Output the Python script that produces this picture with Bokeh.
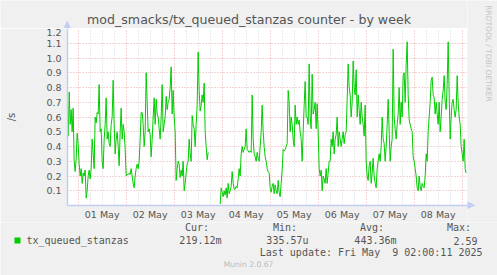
import numpy as np
import pandas as pd
from bokeh.plotting import figure
from bokeh.layouts import column, row
from bokeh.models import FixedTicker, Grid, Label, Range1d, BoxAnnotation
from bokeh.embed import file_html
from bokeh.resources import INLINE

# ---------------- data ----------------
series_name = "tx_queued_stanzas"
series_start = "2025-04-30 18:30"
series_step = "30min"
values = [
    0.60, 0.47, 0.77, 0.55, 0.65, 0.50, 0.66, 0.30, 0.23, 0.32,
    0.49, 0.42, 0.28, 0.20, 0.25, 0.15, 0.22, 0.20, 0.24, 0.05,
    0.10, 0.20, 0.24, 0.18, 0.25, 0.45, 0.35, 0.25, 0.60, 0.56,
    0.63, 0.62, 0.82, 0.50, 0.52, 0.30, 0.25, 0.45, 0.55, 0.73,
    0.45, 0.50, 0.42, 0.40, 0.55, 0.60, 0.85, 0.55, 0.35, 0.45,
    0.50, 0.40, 0.27, 0.50, 0.66, 0.45, 0.55, 0.50, 0.38, 0.20,
    0.21, 0.21, 0.22, 0.21, 0.25, 0.20, 0.15, 0.12, 0.20, 0.25,
    0.28, 0.25, 0.30, 0.45, 0.63, 0.63, 0.55, 0.40, 0.50, 0.90,
    0.70, 0.50, 0.52, 0.48, 0.33, 0.45, 0.60, 0.73, 0.55, 0.72,
    0.62, 0.60, 0.52, 0.45, 0.60, 0.82, 0.50, 0.55, 0.60, 0.74,
    0.65, 0.70, 0.72, 0.80, 0.94, 0.62, 0.78, 0.60, 0.50, 0.17,
    0.25, 0.30, 0.28, 0.19, 0.24, 0.20, 0.30, 0.10, 0.15, 0.22,
    0.28, 0.30, 0.45, 0.35, 0.30, 0.61, 0.55, 0.52, 0.40, 0.55,
    0.68, 1.04, 0.78, 0.64, 0.68, 0.75, 0.70, 0.83, 0.50, 0.40,
    0.31, 0.36, None, None, None, None, None, None, None, None,
    None, None, None, 0.01, 0.12, 0.09, 0.06, 0.10, 0.07, 0.12,
    0.05, 0.15, 0.08, 0.10, 0.13, 0.23, 0.15, 0.11, 0.11, 0.13,
    0.12, 0.18, 0.25, 0.20, 0.35, 0.40, 0.36, 0.38, 0.40, 0.52,
    0.38, 0.37, 0.36, 0.37, 0.36, 0.75, 0.45, 0.35, 0.33, 0.30,
    0.36, 0.32, 0.30, 0.40, 0.50, 0.68, 0.50, 0.40, 0.33, 0.30,
    0.25, 0.23, 0.22, 0.12, 0.09, 0.13, 0.15, 0.08, 0.14, 0.10,
    0.08, 0.17, 0.09, 0.06, 0.15, 0.24, 0.38, 0.37, 0.38, 0.40,
    0.42, 0.78, 0.70, 0.50, 0.60, 0.55, 0.45, 0.40, 0.68, 0.55,
    0.60, 0.55, 0.58, 0.50, 0.45, 0.30, 0.50, 0.68, 0.84, 0.60,
    0.60, 0.55, 0.96, 0.60, 0.52, 0.89, 0.62, 0.65, 0.70, 0.52,
    0.69, 0.50, 0.25, 0.20, 0.24, 0.10, 0.20, 0.18, 0.15, 0.25,
    0.15, 0.22, 0.30, 0.30, 0.45, 0.40, 0.50, 0.35, 0.45, 0.48,
    0.60, 0.40, 0.50, 0.45, 0.40, 0.45, 0.50, 0.42, 0.48, 0.50,
    0.72, 0.96, 0.80, 0.75, 0.60, 0.70, 0.98, 0.80, 0.75, 0.92,
    0.60, 0.75, 0.65, 0.55, 0.70, 0.60, 0.55, 0.47, 0.68, 0.30,
    0.20, 0.17, 0.27, 0.30, 0.15, 0.22, 0.32, 0.20, 0.15, 0.12,
    0.25, 0.30, 0.35, 0.30, 0.40, 0.60, 0.45, 0.42, 0.30, 0.40,
    0.55, 0.72, 0.50, 0.30, 0.40, 0.45, 1.06, 0.60, 0.52, 0.45,
    0.55, 0.62, 0.80, 0.55, 0.70, 0.60, 0.88, 0.90, 0.70, 0.95,
    1.11, 0.75, 0.58, 0.55, 0.52, 0.50, 0.33, 0.30, 0.25, 0.20,
    0.12, 0.10, 0.20, 0.13, 0.10, 0.15, 0.13, 0.12, 0.20, 0.35,
    0.30, 0.50, 0.60, 0.70, 0.85, 0.87, 0.75, 0.73, 0.62, 0.70,
    0.62, 0.55, 0.70, 0.50, 0.60, 0.72, 0.78, 0.88, 0.70, 0.65,
    0.82, 1.11, 0.75, 0.45, 0.60, 0.70, 0.72, 0.65, 0.60, 0.65,
    0.88, 0.70, 0.60, 0.55, 0.40, 0.35, 0.30, 0.45, 0.25, 0.22,
]
day_labels = ["01 May", "02 May", "03 May", "04 May", "05 May", "06 May", "07 May", "08 May"]
day_dates = ["2025-05-01", "2025-05-02", "2025-05-03", "2025-05-04", "2025-05-05",
             "2025-05-06", "2025-05-07", "2025-05-08", "2025-05-09"]
y_ticks = [0.1, 0.2, 0.3, 0.4, 0.5, 0.6, 0.7, 0.8, 0.9, 1.0, 1.1, 1.2]
y_tick_labels = ["0.1", "0.2", "0.3", "0.4", "0.5", "0.6", "0.7", "0.8", "0.9", "1.0", "1.1", "1.2"]
x_start = "2025-04-30 18:40"
x_end = "2025-05-09 02:40"
stat_heads = ["Cur:", "Min:", "Avg:", "Max:"]
stat_values = ["219.12m", "335.57u", "443.36m", "2.59"]
title_text = "mod_smacks/tx_queued_stanzas counter - by week"
y_unit = "/s"
watermark = "RRDTOOL / TOBI OETIKER"
last_update = "Last update: Fri May \u00a09 02:00:11 2025"
footer = "Munin 2.0.67"

# ---------------- build ----------------
W, H = 497, 275
LEFT_W = 467          # width of title strip + chart
TOP = 28              # height of title strip
CHART_H = 194         # chart figure height (frame 177 + axis 17)
BG = "#F0F0F0"
TXT = "#555555"
AXIS = "#C4CCF4"
GREEN = "#00CC00"
times = pd.date_range(start=series_start, periods=len(values), freq=series_step)
y = np.array([np.nan if v is None else v for v in values], dtype=float)


def ms(ts):
    return pd.Timestamp(ts).value / 1e6


def no_align(fig):
    try:
        fig.frame_align = False
    except Exception:
        pass


def canvas_fig(w, h, x0, x1, y0, y1):
    """A figure whose frame fills it, with pixel-like ranges (y downwards)."""
    f = figure(width=w, height=h, output_backend="svg", toolbar_location=None,
               x_range=Range1d(x0, x1), y_range=Range1d(y1, y0), title=None,
               x_axis_location=None, y_axis_location=None, min_border=0)
    f.background_fill_color = BG
    f.border_fill_color = BG
    f.outline_line_color = None
    f.grid.visible = False
    no_align(f)
    return f


# ---- chart ----
p = figure(width=LEFT_W, height=CHART_H, x_axis_type="datetime", output_backend="svg",
           toolbar_location=None, title=None,
           x_range=Range1d(pd.Timestamp(x_start), pd.Timestamp(x_end)),
           y_range=Range1d(0, 1.2),
           min_border_left=67, min_border_right=0, min_border_top=0, min_border_bottom=17)
no_align(p)
p.background_fill_color = "white"
p.border_fill_color = BG
p.outline_line_color = None

noons = [ms(pd.Timestamp(d) + pd.Timedelta(hours=12)) for d in day_dates[:-1]]
p.xaxis.ticker = FixedTicker(ticks=noons)
p.xaxis.major_label_overrides = {t: l for t, l in zip(noons, day_labels)}
p.yaxis.ticker = FixedTicker(ticks=y_ticks)
p.yaxis.major_label_overrides = {t: l for t, l in zip(y_ticks, y_tick_labels)}
for ax in (p.xaxis[0], p.yaxis[0]):
    ax.axis_line_color = AXIS
    ax.axis_line_width = 1.5
    ax.major_tick_line_color = None
    ax.minor_tick_line_color = None
    ax.major_tick_out = 0
    ax.major_tick_in = 0
    ax.major_label_text_color = TXT
    ax.major_label_text_font = "DejaVu Sans"
    ax.major_label_text_font_size = "9.5px"
p.yaxis.major_label_standoff = 6
p.xaxis.major_label_standoff = 3
p.yaxis.axis_label = y_unit
p.yaxis.axis_label_text_font = "DejaVu Sans"
p.yaxis.axis_label_text_font_size = "10px"
p.yaxis.axis_label_text_font_style = "normal"
p.yaxis.axis_label_text_color = TXT
p.yaxis.axis_label_standoff = 26

midnights = [ms(d) for d in day_dates]
six_h = [ms(t) for t in pd.date_range("2025-04-30 18:00", "2025-05-09 06:00", freq="6h")
         if t.hour != 0]
p.xgrid.ticker = FixedTicker(ticks=midnights)
for g in (p.xgrid[0], p.ygrid[0]):
    g.grid_line_color = "#EBA8A8"
    g.grid_line_dash = "1 2"
    g.grid_line_width = 1
p.add_layout(Grid(dimension=0, ticker=FixedTicker(ticks=six_h), grid_line_color="#D4D4D4",
                  grid_line_dash="1 2", grid_line_width=1))

p.line(times, y, line_color=GREEN, line_width=1.0)

# ---- title strip ----
t = canvas_fig(LEFT_W, TOP, 0, LEFT_W, 0, TOP)
t.add_layout(Label(x=248.5, y=19, text=title_text, text_font="DejaVu Sans",
                   text_font_size="12.6px", text_color=TXT, text_align="center",
                   text_baseline="middle"))
# y-axis arrow head
t.patch([63.5, 70, 66.75], [TOP, TOP, 21], fill_color=AXIS, line_color=AXIS)

# ---- right strip ----
r = canvas_fig(W - LEFT_W, TOP + CHART_H, LEFT_W, W, 0, TOP + CHART_H)
r.add_layout(Label(x=488, y=53, text=watermark, text_font="DejaVu Sans",
                   text_font_size="7.5px", text_color="#C4C4C4", text_align="center",
                   text_baseline="middle", angle=-np.pi / 2))
# x-axis arrow head
r.patch([LEFT_W, LEFT_W, 474], [201.5, 208, 204.75], fill_color=AXIS, line_color=AXIS)

# ---- legend strip ----
q = canvas_fig(W, H - TOP - CHART_H, 0, W, TOP + CHART_H, H)


def lab(x, yy, text, size, color=TXT, font="DejaVu Sans Mono", align="left"):
    q.add_layout(Label(x=x, y=yy, text=text, text_font=font, text_font_size=size,
                       text_color=color, text_align=align, text_baseline="middle"))


head_x = [196.5, 284.5, 371.5, 458.5]
val_right = [221, 308, 396, 477]
for hx, h in zip(head_x, stat_heads):
    lab(hx, 227, h, "10px", align="center")
for vx, v in zip(val_right, stat_values):
    lab(vx, 240, v, "10px", align="right")
lab(26, 240, series_name, "10px")
lab(482, 252, last_update, "10px", align="right")
lab(248, 264, footer, "7.6px", color="#BBBBBB", font="DejaVu Sans", align="center")
q.add_layout(BoxAnnotation(left=14, right=20, bottom=243, top=237,
                           fill_color=GREEN, fill_alpha=1, line_color=None))

layout = column(row(column(t, p, spacing=0), r, spacing=0), q, spacing=0)
open("out.html", "w").write(file_html(layout, INLINE))
